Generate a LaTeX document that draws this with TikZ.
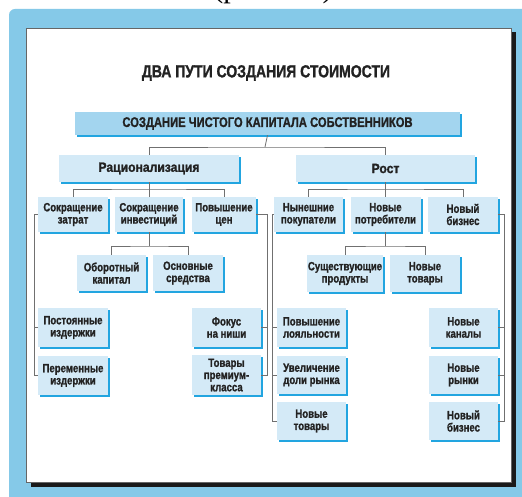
\documentclass[tikz,border=0pt]{standalone}
\usepackage{fontspec}
\setmainfont{Liberation Sans}
\newfontfamily\cond{Liberation Sans Bold}[FakeStretch=0.8, FakeBold=1.2]
\newfontfamily\condw{Liberation Sans Bold}[FakeStretch=0.9, FakeBold=1.2]
\newfontfamily\capfont{Liberation Serif}
\usetikzlibrary{shadows}
\definecolor{outerblue}{HTML}{85C9E8}
\definecolor{boxfill}{HTML}{D4EAF7}
\definecolor{topfill}{HTML}{A3D5EF}
\definecolor{shblue}{HTML}{22A5E0}
\definecolor{txt}{HTML}{222222}
\definecolor{conn}{HTML}{707070}
\definecolor{panelshadow}{HTML}{1A1A1A}
\tikzset{
  box/.style={fill=boxfill, draw=none, inner sep=0pt, align=center, text=txt,
    font=\cond\fontsize{12}{12.2}\selectfont,
    drop shadow={shadow xshift=2pt, shadow yshift=-2pt, fill=shblue, opacity=1}},
  topbox/.style={box, fill=topfill, font=\cond\fontsize{14}{15}\selectfont},
  headbox/.style={box, font=\condw\fontsize{13.5}{15}\selectfont},
  link/.style={draw=conn, line width=0.8pt},
}
\begin{document}
\begin{tikzpicture}[x=1pt,y=-1pt]
\useasboundingbox (0,0) rectangle (522,497);
\clip (0,0) rectangle (522,497);
\fill[white] (0,0) rectangle (522,497);
% cut caption
\node[anchor=base, font=\capfont\fontsize{30}{30}\selectfont] (cap) at (273,-2) {(рис. 1.1)};
% outer blue frame
\fill[outerblue, rounded corners=6pt] (9,9) rectangle (540,520);
% panel
\fill[panelshadow] (31,32) rectangle (516,487);
\filldraw[fill=white, draw=gray!80!black, line width=0.8pt] (26,28) rectangle (511,482);
% title
\node[font=\cond\fontsize{17.5}{19}\selectfont, text=txt] (title) at (266,73) {ДВА ПУТИ СОЗДАНИЯ СТОИМОСТИ};
% top level
\node[topbox, minimum width=385pt, minimum height=23pt] (top) at (267.5,123.5) {СОЗДАНИЕ ЧИСТОГО КАПИТАЛА СОБСТВЕННИКОВ};
\node[headbox, minimum width=180pt, minimum height=27pt] (rat) at (149,168.5) {Рационализация};
\node[headbox, minimum width=179pt, minimum height=27pt] (rost) at (385.5,168.5) {Рост};
% level 2
\node[box, minimum width=70pt, minimum height=35pt] (sz) at (73,214.5) {Сокращение\\затрат};
\node[box, minimum width=68pt, minimum height=35pt] (si) at (149,214.5) {Сокращение\\инвестиций};
\node[box, minimum width=64pt, minimum height=35pt] (pc) at (224,214.5) {Повышение\\цен};
\node[box, minimum width=69pt, minimum height=35pt] (np) at (308.5,214.5) {Нынешние\\покупатели};
\node[box, minimum width=70pt, minimum height=35pt] (nc) at (385.5,214.5) {Новые\\потребители};
\node[box, minimum width=70pt, minimum height=35pt] (nb) at (463,214.5) {Новый\\бизнес};
% level 3
\node[box, minimum width=69pt, minimum height=36pt] (ok) at (111.5,273) {Оборотный\\капитал};
\node[box, minimum width=70pt, minimum height=36pt] (os) at (188,273) {Основные\\средства};
\node[box, minimum width=76pt, minimum height=37pt] (sp) at (345,273.5) {Существующие\\продукты};
\node[box, minimum width=70pt, minimum height=37pt] (nt) at (425,273.5) {Новые\\товары};
% side columns
\node[box, minimum width=70pt, minimum height=39pt] (pi) at (73,327.5) {Постоянные\\издержки};
\node[box, minimum width=70pt, minimum height=39pt] (pe) at (73,375.5) {Переменные\\издержки};
\node[box, minimum width=69pt, minimum height=39pt] (fn) at (226.5,327.5) {Фокус\\на ниши};
\node[box, minimum width=69pt, minimum height=40pt] (tp) at (226.5,375) {Товары\\премиум-\\класса};
\node[box, minimum width=69pt, minimum height=39pt] (pl) at (311.5,327.5) {Повышение\\лояльности};
\node[box, minimum width=69pt, minimum height=38pt] (ud) at (311.5,375) {Увеличение\\доли рынка};
\node[box, minimum width=69pt, minimum height=38pt] (nt2) at (311.5,421) {Новые\\товары};
\node[box, minimum width=69pt, minimum height=39pt] (nk) at (463.5,327.5) {Новые\\каналы};
\node[box, minimum width=69pt, minimum height=38pt] (nr) at (463.5,375) {Новые\\рынки};
\node[box, minimum width=69pt, minimum height=38pt] (nb2) at (463.5,421) {Новый\\бизнес};
% junctions
\coordinate (j1) at (265,147);
\coordinate (j2) at (149,189);
\coordinate (j3) at (385.5,189);
\coordinate (j4) at (149,246);
\coordinate (j5) at (385.5,246);
\coordinate (xl) at (34,0);
\coordinate (xr) at (267,0);
\coordinate (yl) at (272,0);
\coordinate (yr) at (504,0);
% connectors
\draw[link] (top.south) -- (j1);
\draw[link] (rat.north) |- (j1) -| (rost.north);
\draw[link] (rat.south) -- (si.north);
\draw[link] (sz.north) |- (j2) -| (pc.north);
\draw[link] (rost.south) -- (nc.north);
\draw[link] (np.north) |- (j3) -| (nb.north);
\draw[link] (si.south) -- (j4);
\draw[link] (ok.north) |- (j4) -| (os.north);
\draw[link] (nc.south) -- (j5);
\draw[link] (sp.north) |- (j5) -| (nt.north);
\draw[link] (sz.west) -| (xl |- pe.west) -- (pe.west);
\draw[link] (pi.west) -- (xl |- pi.west);
\draw[link] (pc.east) -| (xr |- tp.east) -- (tp.east);
\draw[link] (fn.east) -- (xr |- fn.east);
\draw[link] (np.west) -| (yl |- nt2.west) -- (nt2.west);
\draw[link] (pl.west) -- (yl |- pl.west);
\draw[link] (ud.west) -- (yl |- ud.west);
\draw[link] (nb.east) -| (yr |- nb2.east) -- (nb2.east);
\draw[link] (nk.east) -- (yr |- nk.east);
\draw[link] (nr.east) -- (yr |- nr.east);
\end{tikzpicture}
\end{document}
